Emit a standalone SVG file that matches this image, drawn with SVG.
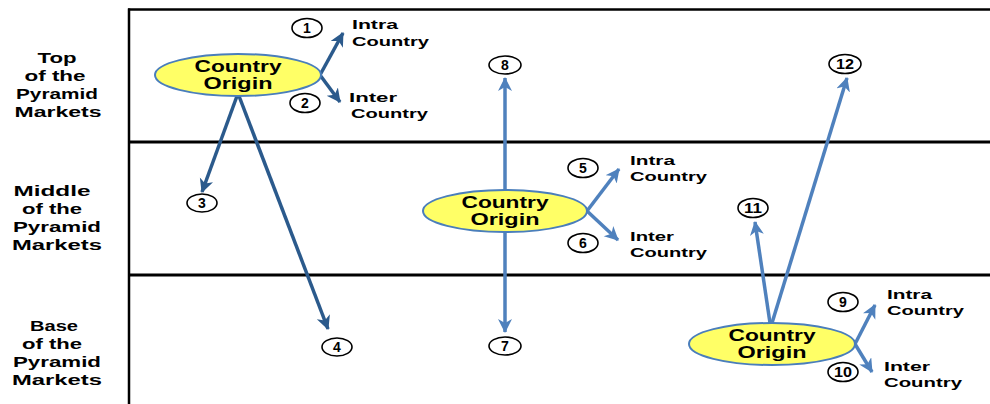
<svg xmlns="http://www.w3.org/2000/svg" width="990" height="404" viewBox="0 0 990 404">
<style>
.lbl{font-family:"Liberation Sans",Arial,sans-serif;font-weight:bold;font-size:15px;fill:#000;text-anchor:middle}
.sm{font-family:"Liberation Sans",Arial,sans-serif;font-weight:bold;font-size:13px;fill:#000}
.num{font-family:"Liberation Sans",Arial,sans-serif;font-weight:bold;font-size:14px;fill:#000;text-anchor:middle}
.nc{fill:#fff;stroke:#000;stroke-width:1.6}
.org{fill:#FFFF66;stroke:#4A7EBB;stroke-width:2}
.ot{font-family:"Liberation Sans",Arial,sans-serif;font-weight:bold;font-size:16px;fill:#000;text-anchor:middle}
.dk{stroke:#2B5A8C;stroke-width:3.5;fill:none}
.lt{stroke:#4F81BD;stroke-width:3.5;fill:none}
.grid{stroke:#000;stroke-width:3}
</style>
<defs>
<marker id="ad" markerUnits="userSpaceOnUse" markerWidth="16" markerHeight="16" refX="13" refY="7" orient="auto">
<path d="M0,0 L14,7 L0,14 L4,7 z" fill="#2B5A8C"/>
</marker>
<marker id="al" markerUnits="userSpaceOnUse" markerWidth="16" markerHeight="16" refX="13" refY="7" orient="auto">
<path d="M0,0 L14,7 L0,14 L4,7 z" fill="#4F81BD"/>
</marker>
<marker id="als" markerUnits="userSpaceOnUse" markerWidth="16" markerHeight="16" refX="1" refY="7" orient="auto">
<path d="M14,0 L0,7 L14,14 L10,7 z" fill="#4F81BD"/>
</marker>
</defs>
<rect width="990" height="404" fill="#fff"/>
<g id="grid">
<line x1="128" y1="9.5" x2="990" y2="9.5" stroke="#000" stroke-width="2.5"/>
<line x1="129" y1="8.5" x2="129" y2="404" stroke="#000" stroke-width="2.5"/>
<line class="grid" x1="128" y1="142" x2="990" y2="142"/>
<line class="grid" x1="128" y1="275" x2="990" y2="275"/>
</g>
<g id="row-labels">
<text class="lbl"><tspan x="57" y="63" textLength="39" lengthAdjust="spacingAndGlyphs">Top</tspan><tspan x="55" y="81" textLength="61" lengthAdjust="spacingAndGlyphs">of the</tspan><tspan x="57" y="99" textLength="82" lengthAdjust="spacingAndGlyphs">Pyramid</tspan><tspan x="58" y="117" textLength="87" lengthAdjust="spacingAndGlyphs">Markets</tspan></text>
<text class="lbl"><tspan x="52" y="196" textLength="77" lengthAdjust="spacingAndGlyphs">Middle</tspan><tspan x="52" y="214" textLength="60" lengthAdjust="spacingAndGlyphs">of the</tspan><tspan x="57" y="232" textLength="88" lengthAdjust="spacingAndGlyphs">Pyramid</tspan><tspan x="57" y="250" textLength="90" lengthAdjust="spacingAndGlyphs">Markets</tspan></text>
<text class="lbl"><tspan x="54" y="331" textLength="48" lengthAdjust="spacingAndGlyphs">Base</tspan><tspan x="52" y="349" textLength="60" lengthAdjust="spacingAndGlyphs">of the</tspan><tspan x="57" y="367" textLength="88" lengthAdjust="spacingAndGlyphs">Pyramid</tspan><tspan x="57" y="385" textLength="90" lengthAdjust="spacingAndGlyphs">Markets</tspan></text>
</g>
<g id="connectors">
<line class="dk" x1="320" y1="75" x2="343" y2="33" marker-end="url(#ad)"/>
<line class="dk" x1="320" y1="75" x2="340" y2="102" marker-end="url(#ad)"/>
<line class="dk" x1="237" y1="96" x2="202" y2="192" marker-end="url(#ad)"/>
<line class="dk" x1="239" y1="96" x2="328" y2="329" marker-end="url(#ad)"/>
<line class="lt" x1="505" y1="78" x2="505" y2="332" marker-start="url(#als)" marker-end="url(#al)"/>
<line class="lt" x1="587" y1="211" x2="619" y2="169" marker-end="url(#al)"/>
<line class="lt" x1="587" y1="211" x2="618" y2="240" marker-end="url(#al)"/>
<line class="lt" x1="770" y1="323" x2="755" y2="222" marker-end="url(#al)"/>
<line class="lt" x1="772" y1="323" x2="847" y2="78" marker-end="url(#al)"/>
<line class="lt" x1="855" y1="344" x2="875" y2="305" marker-end="url(#al)"/>
<line class="lt" x1="855" y1="344" x2="872" y2="372" marker-end="url(#al)"/>
</g>
<g id="origin-top">
<ellipse class="org" cx="238" cy="75" rx="83" ry="21"/>
<text class="ot"><tspan x="238" y="72" textLength="87" lengthAdjust="spacingAndGlyphs">Country</tspan><tspan x="238" y="89" textLength="69" lengthAdjust="spacingAndGlyphs">Origin</tspan></text>
</g>
<g id="origin-middle">
<ellipse class="org" cx="505" cy="211" rx="82" ry="21"/>
<text class="ot"><tspan x="505" y="208" textLength="87" lengthAdjust="spacingAndGlyphs">Country</tspan><tspan x="505" y="225" textLength="69" lengthAdjust="spacingAndGlyphs">Origin</tspan></text>
</g>
<g id="origin-base">
<ellipse class="org" cx="772" cy="344" rx="83" ry="21"/>
<text class="ot"><tspan x="772" y="341" textLength="87" lengthAdjust="spacingAndGlyphs">Country</tspan><tspan x="772" y="358" textLength="69" lengthAdjust="spacingAndGlyphs">Origin</tspan></text>
</g>
<g id="dest-labels">
<text class="sm"><tspan x="352" y="29" textLength="46" lengthAdjust="spacingAndGlyphs">Intra</tspan><tspan x="352" y="46" textLength="77" lengthAdjust="spacingAndGlyphs">Country</tspan></text>
<text class="sm"><tspan x="349" y="102" textLength="48" lengthAdjust="spacingAndGlyphs">Inter</tspan><tspan x="351" y="118" textLength="77" lengthAdjust="spacingAndGlyphs">Country</tspan></text>
<text class="sm"><tspan x="630" y="165" textLength="45" lengthAdjust="spacingAndGlyphs">Intra</tspan><tspan x="630" y="181" textLength="77" lengthAdjust="spacingAndGlyphs">Country</tspan></text>
<text class="sm"><tspan x="630" y="241" textLength="44" lengthAdjust="spacingAndGlyphs">Inter</tspan><tspan x="630" y="257" textLength="77" lengthAdjust="spacingAndGlyphs">Country</tspan></text>
<text class="sm"><tspan x="887" y="299" textLength="45" lengthAdjust="spacingAndGlyphs">Intra</tspan><tspan x="887" y="315" textLength="77" lengthAdjust="spacingAndGlyphs">Country</tspan></text>
<text class="sm"><tspan x="884" y="371" textLength="46" lengthAdjust="spacingAndGlyphs">Inter</tspan><tspan x="884" y="387" textLength="78" lengthAdjust="spacingAndGlyphs">Country</tspan></text>
</g>
<g id="n1"><ellipse class="nc" cx="307" cy="28" rx="15" ry="9.5"/><text class="num" x="307" y="33">1</text></g>
<g id="n2"><ellipse class="nc" cx="305" cy="103" rx="15" ry="9.5"/><text class="num" x="305" y="108">2</text></g>
<g id="n3"><ellipse class="nc" cx="202" cy="203" rx="15" ry="9"/><text class="num" x="202" y="208">3</text></g>
<g id="n4"><ellipse class="nc" cx="337" cy="347" rx="15" ry="9"/><text class="num" x="337" y="352">4</text></g>
<g id="n5"><ellipse class="nc" cx="583" cy="168" rx="15" ry="9.5"/><text class="num" x="583" y="173">5</text></g>
<g id="n6"><ellipse class="nc" cx="583" cy="243" rx="15" ry="9.5"/><text class="num" x="583" y="248">6</text></g>
<g id="n7"><ellipse class="nc" cx="505" cy="346" rx="16" ry="9"/><text class="num" x="505" y="351">7</text></g>
<g id="n8"><ellipse class="nc" cx="505" cy="65" rx="16" ry="9"/><text class="num" x="505" y="70">8</text></g>
<g id="n9"><ellipse class="nc" cx="843" cy="302" rx="15" ry="9.5"/><text class="num" x="843" y="307">9</text></g>
<g id="n10"><ellipse class="nc" cx="843" cy="372" rx="15" ry="9.5"/><text class="num" x="843" y="377" textLength="18" lengthAdjust="spacingAndGlyphs">10</text></g>
<g id="n11"><ellipse class="nc" cx="753" cy="208" rx="15" ry="9.5"/><text class="num" x="753" y="213" textLength="18" lengthAdjust="spacingAndGlyphs">11</text></g>
<g id="n12"><ellipse class="nc" cx="845" cy="64" rx="16" ry="9.5"/><text class="num" x="845" y="69" textLength="18" lengthAdjust="spacingAndGlyphs">12</text></g>
</svg>
